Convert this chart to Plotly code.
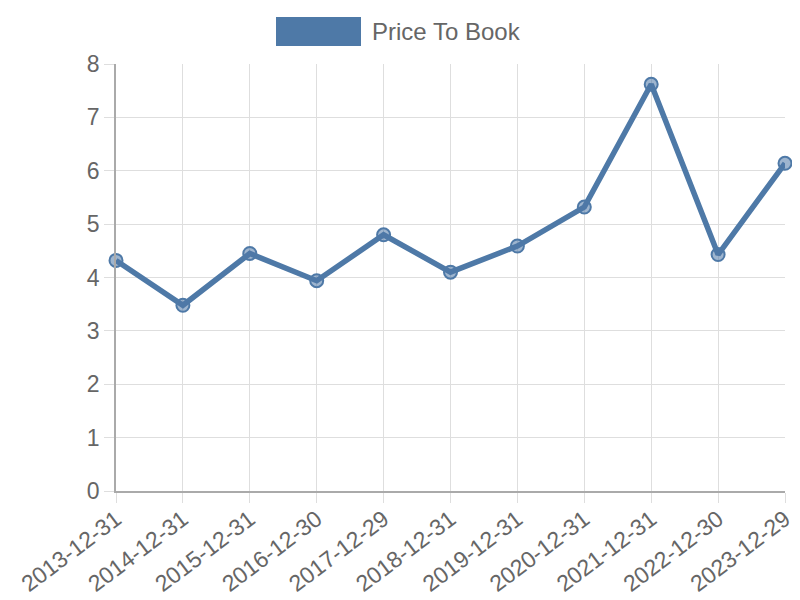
import plotly.graph_objects as go

dates = ["2013-12-31", "2014-12-31", "2015-12-31", "2016-12-30", "2017-12-29",
         "2018-12-31", "2019-12-31", "2020-12-31", "2021-12-31", "2022-12-30", "2023-12-29"]
price_to_book = [4.32, 3.48, 4.45, 3.94, 4.80, 4.10, 4.59, 5.32, 7.62, 4.43, 6.14]
series_name = "Price To Book"

idx = list(range(len(dates)))
blue = "#4e79a7"
font_col = "#666666"
grid_col = "#dedede"

# page body has an 8px offset; compensate in margins
OFF = 8
L, R, T, B = 116 - OFF, 800 - (785 - OFF), 64 - OFF, 600 - (491 - OFF)
pw = 800 - L - R
ph = 600 - T - B

fig = go.Figure()
fig.add_trace(go.Scatter(
    x=idx, y=price_to_book, mode="lines+markers", name=series_name,
    line=dict(color=blue, width=5.5),
    marker=dict(size=13, color="rgba(78,121,167,0.55)", line=dict(color=blue, width=2)),
    cliponaxis=False, showlegend=False,
))

fig.update_layout(
    width=800, height=600,
    margin=dict(l=L, r=R, t=T, b=B),
    paper_bgcolor="white", plot_bgcolor="white",
    font=dict(family="Liberation Sans, Arial, sans-serif", color=font_col, size=24),
    xaxis=dict(
        range=[0, len(dates) - 1], tickvals=idx, ticktext=dates, tickangle=-37,
        showgrid=True, gridcolor=grid_col, gridwidth=1,
        ticks="outside", ticklen=10, tickcolor=grid_col,
        showline=True, linecolor="#aaaaaa", linewidth=1.5,
        zeroline=False, automargin=False, ticklabelstandoff=-6,
        tickfont=dict(size=23, color=font_col),
    ),
    yaxis=dict(
        range=[0, 8], dtick=1,
        showgrid=True, gridcolor=grid_col, gridwidth=1,
        ticks="outside", ticklen=10, tickcolor=grid_col,
        showline=True, linecolor="#aaaaaa", linewidth=1.5,
        zeroline=False, automargin=False, tickfont=dict(size=23, color=font_col),
    ),
    shapes=[dict(type="rect", xref="paper", yref="paper",
                 x0=(276 - 116) / pw, x1=(361 - 116) / pw,
                 y0=(491 - 46) / ph, y1=(491 - 17) / ph,
                 fillcolor=blue, line=dict(width=0))],
    annotations=[dict(text=series_name, xref="paper", yref="paper",
                      x=(370 - 116) / pw, y=(491 - 32) / ph,
                      xanchor="left", yanchor="middle", showarrow=False,
                      font=dict(size=24, color=font_col))],
)

fig.write_html("out.html")
